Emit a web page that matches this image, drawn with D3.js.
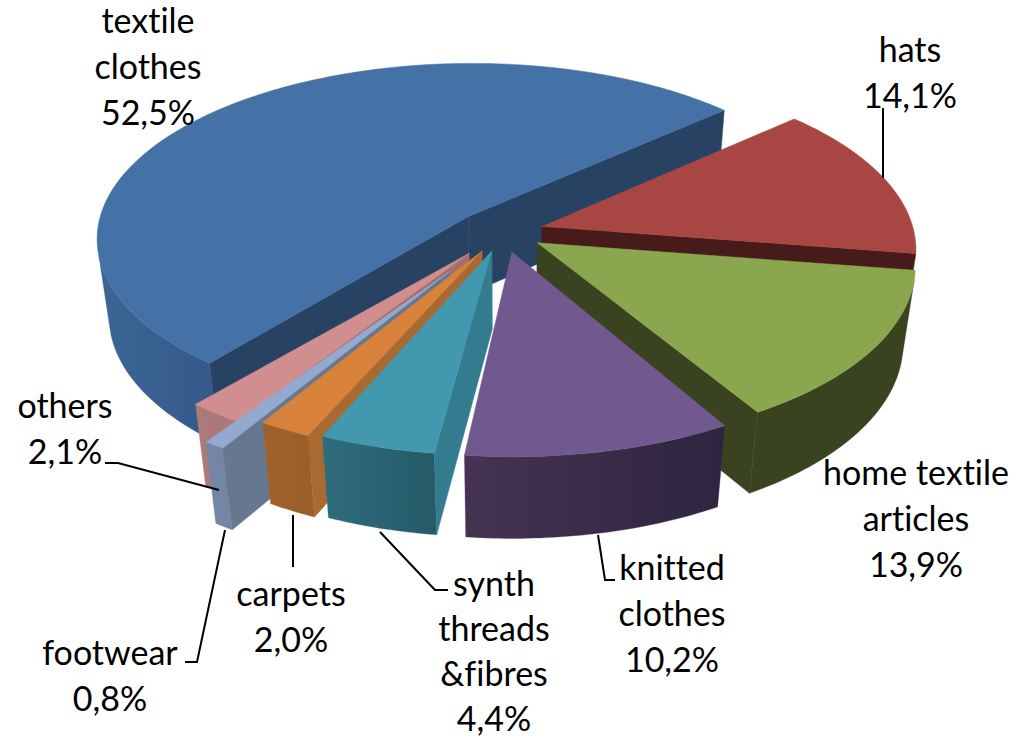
<!DOCTYPE html>
<html><head><meta charset="utf-8">
<script src="https://cdnjs.cloudflare.com/ajax/libs/d3/7.8.5/d3.min.js"></script>
<style>html,body{margin:0;padding:0;background:#fff}svg{display:block}text{font-family:Lato,"Open Sans",sans-serif;font-size:34px;fill:#000;font-variant-ligatures:none}</style>
</head><body><svg id="c" width="1028" height="738"></svg>
<script>
const categories=["hats","home textile articles","knitted clothes","synth threads &fibres","carpets","footwear","others","textile clothes"];
const values=[14.1,13.9,10.2,4.4,2.0,0.8,2.1,52.5];
const valueLabels=["14,1%","13,9%","10,2%","4,4%","2,0%","0,8%","2,1%","52,5%"];
const labelLines=[["hats"],["home textile","articles"],["knitted","clothes"],["synth","threads","&fibres"],["carpets"],["footwear"],["others"],["textile","clothes"]];
const explodes=[0.11,0.11,0.115,0.11,0.12,0.26,0.15,0.13];
const sliceTurnDeg=[0,0,1,2,2.5,2.5,1.5,0];
const topColors=["#a84644","#8aa64f","#71588f","#4198af","#d9823b","#93a9cf","#d08f8e","#4472a6"];
const radialColors=["#461b1a","#3a431f","#2d2540","#337c8f","#a86a30","#667890","#a46e6c","#284263"];
const rimLeft=["#461b1a","#3a431f","#463352","#2f6d7c","#a0622c","#7486a5","#ac7a78","#3c6595"];
const rimRight=["#461b1a","#3a431f","#2d2540","#265a68","#9a5e2a","#7486a5","#a87776","#34598a"];
const labelAnchors=[[910,62],[916,485],[672,580],[494,596],[291,606],[110,665],[65,418],[148,33]];
const labelStep=[46,46,46,45,46,46,46,46];
const leaderPaths=[[[883,108],[883,178]],[[598,535],[605,580],[615,580]],[[380,532],[435,590],[448,590]],[[293,515],[293,567]],[[225,530],[197,662],[185,662]],[[219,490],[118,463],[105,463]]];
const drawOrder=[7,0,1,6,5,4,3,2];

const cx=503,cy=232,R=372,Ry=175,D=80,k=0.12,m=0.03;
const startA=48*Math.PI/180;
const svg=d3.select("#c"),defs=svg.append("defs");
const arcs=d3.pie().sort(null).startAngle(startA).endAngle(startA+2*Math.PI)(values);
const proj=(u,v,z)=>{const s=1/(1-k*v+m*z);return [cx+R*u*s,cy+(Ry*v+D*z)*s];};
const line=d3.line().curve(d3.curveLinear);
const area=p=>d3.polygonArea(p);

drawOrder.forEach(i=>{
  const turn=sliceTurnDeg[i]*Math.PI/180;
  const a={startAngle:arcs[i].startAngle+turn,endAngle:arcs[i].endAngle+turn};
  const mid=(a.startAngle+a.endAngle)/2,e=explodes[i];
  const ou=e*Math.sin(mid),ov=-e*Math.cos(mid);
  const pt=(r,t,z)=>proj(ou+r*Math.sin(t),ov-r*Math.cos(t),z);
  const n=Math.max(4,Math.ceil((a.endAngle-a.startAngle)*60));
  const ts=d3.range(n+1).map(j=>a.startAngle+(a.endAngle-a.startAngle)*j/n);
  const g=svg.append("g");
  const id="rim"+i,gr=defs.append("linearGradient").attr("id",id);
  gr.append("stop").attr("offset","0").attr("stop-color",rimLeft[i]);
  gr.append("stop").attr("offset","1").attr("stop-color",rimRight[i]);
  const rim=ts.filter((t,j)=>{
    const t2=j<n?t:ts[j-1],t3=j<n?ts[j+1]:t;
    return area([pt(1,t2,0),pt(1,t3,0),pt(1,t3,1),pt(1,t2,1)])>0;});
  if(rim.length>1){
    const poly=rim.map(t=>pt(1,t,0)).concat(rim.slice().reverse().map(t=>pt(1,t,1)));
    g.append("path").attr("d",line(poly)+"Z").attr("fill",`url(#${id})`).attr("stroke",rimLeft[i]).attr("stroke-width",.3);
  }
  [[a.startAngle,1],[a.endAngle,-1]].forEach(([t,dir])=>{
    const q=[pt(0,t,0),pt(1,t,0),pt(1,t,1),pt(0,t,1)];
    if(area(q)*dir>0) g.append("path").attr("d",line(q)+"Z").attr("fill",radialColors[i]).attr("stroke",radialColors[i]).attr("stroke-width",.5);
  });
  const top=[pt(0,a.startAngle,0)].concat(ts.map(t=>pt(1,t,0)));
  g.append("path").attr("d",line(top)+"Z").attr("fill",topColors[i]).attr("stroke",topColors[i]).attr("stroke-width",.5);
});

leaderPaths.forEach(p=>svg.append("path").attr("d",line(p)).attr("fill","none").attr("stroke","#000").attr("stroke-width",2));
categories.forEach((c,i)=>{
  const ls=labelLines[i].concat([valueLabels[i]]);
  const t=svg.append("text").attr("text-anchor","middle");
  ls.forEach((s,j)=>t.append("tspan").attr("x",labelAnchors[i][0]).attr("y",labelAnchors[i][1]+j*labelStep[i]).text(s));
});
</script></body></html>
